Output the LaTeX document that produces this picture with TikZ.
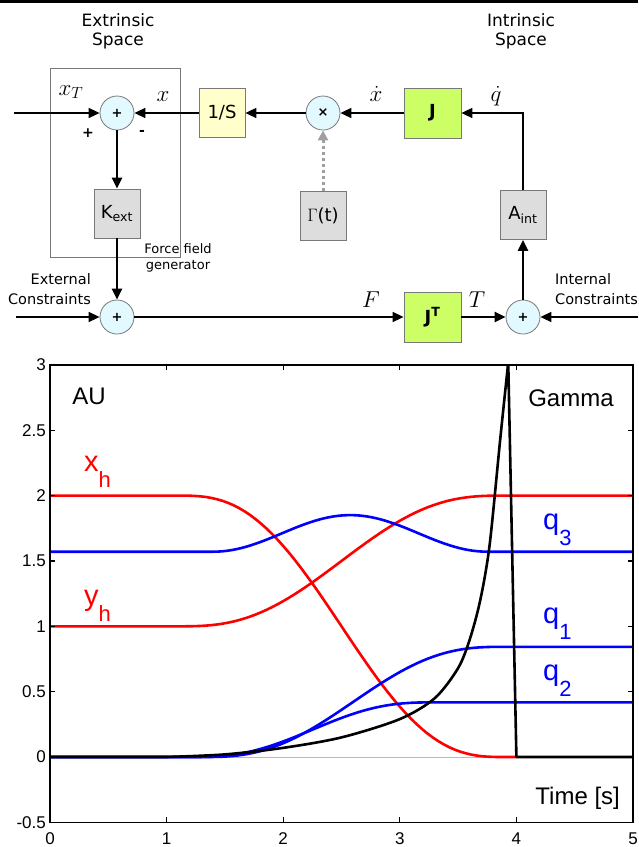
\documentclass[tikz,border=0pt]{standalone}
\usepackage{fix-cm}
\usepackage{amsmath}
\usepackage{fontspec}
\setmainfont{Liberation Sans}
\newfontfamily\handfont{DejaVu Sans}
\usepackage{tikz}
\usetikzlibrary{arrows.meta, positioning, calc}
\definecolor{sumcyan}{RGB}{226,250,255}
\definecolor{paleyellow}{RGB}{255,255,204}
\definecolor{limegreen}{RGB}{204,255,102}
\definecolor{boxgray}{RGB}{221,221,221}
\definecolor{edgegray}{RGB}{120,120,120}
\definecolor{plotred}{RGB}{255,0,0}
\definecolor{plotblue}{RGB}{0,0,255}
\newcommand{\plotsym}[2]{#1\raisebox{-16pt}{\fontsize{22}{22}\selectfont #2}}
\tikzset{
  %% ---- blocks ----
  sumnode/.style    = {circle, draw=edgegray, line width=0.8pt, fill=sumcyan,
                       minimum size=34pt, inner sep=0pt,
                       font=\handfont\bfseries\fontsize{13}{13}\selectfont},
  block/.style      = {rectangle, draw=edgegray, line width=0.8pt,
                       minimum width=46pt, minimum height=49pt, inner sep=0pt,
                       font=\handfont\fontsize{18}{18}\selectfont},
  yellowblock/.style= {block, fill=paleyellow},
  greenblock/.style = {block, fill=limegreen, minimum width=57pt,
                       minimum height=50pt,
                       font=\handfont\bfseries\fontsize{18}{18}\selectfont},
  grayblock/.style  = {block, fill=boxgray},
  %% ---- labels ----
  mathlbl/.style    = {inner sep=0pt, anchor=base, font=\fontsize{23}{23}\selectfont},
  txtlbl/.style     = {inner sep=0pt, align=center,
                       font=\handfont\fontsize{17}{19}\selectfont},
  smalllbl/.style   = {inner sep=0pt, font=\handfont\fontsize{14.5}{20}\selectfont},
  axlbl/.style      = {inner sep=0pt, font=\fontsize{24}{24}\selectfont},
  ticklbl/.style    = {inner sep=0pt, font=\fontsize{17}{17}\selectfont},
  curvelbl/.style   = {inner sep=0pt, anchor=base west, font=\fontsize{29}{29}\selectfont},
  %% ---- arrows ----
  sig/.style        = {-{Triangle[length=11pt,width=10pt]}, line width=1.6pt},
  thicksig/.style   = {sig, line width=2.4pt},
  dotsig/.style     = {-{Triangle[length=10pt,width=10pt]}, line width=3pt,
                       color=gray!75, dash pattern=on 3pt off 3pt},
  curve/.style      = {line width=2.6pt, line join=round},
}

\begin{document}
\begin{tikzpicture}[x=1pt, y=-1pt,
    declare function={mj(\u)=10*\u^3-15*\u^4+6*\u^5;}]
  \useasboundingbox (0,0) rectangle (638,847);
  \fill[black] (0,0) rectangle (638,3);

  %% ---- block diagram ----
  \node[draw=edgegray, line width=0.8pt, minimum width=130pt,
        minimum height=189pt, inner sep=0pt] (ffgbox) at (115,162.5) {};

  \node[txtlbl] (extsp) at (118,31) {Extrinsic\\Space};
  \node[txtlbl] (intsp) at (521,31) {Intrinsic\\Space};

  \node[sumnode]    (sumx)  at (117,113)   {+};
  \node[yellowblock](integ) at (222,113)   {1/S};
  \node[sumnode]    (mult)  at (323,113)   {×};
  \node[greenblock] (jac)   at (432.5,113) {J};
  \node[grayblock]  (kext)  at (117,213.5) {K\textsubscript{ext}};
  \node[grayblock]  (gam)   at (323,215.5) {$\Gamma$(t)};
  \node[grayblock]  (aint)  at (523,215)   {A\textsubscript{int}};
  \node[sumnode]    (sumf)  at (117,317)   {+};
  \node[greenblock] (jact)  at (432.5,317) {J\textsuperscript{T}};
  \node[sumnode]    (sumt)  at (523,317)   {+};

  \node[txtlbl, font=\handfont\fontsize{13}{16}\selectfont] (ffglbl)
    at (178,258) {Force field\\generator};
  \node[smalllbl, align=right, anchor=east] (extc) at (91,289)
    {External\\Constraints};
  \node[smalllbl, align=left, anchor=west] (intc) at (555,289)
    {Internal\\Constraints};

  \node[mathlbl] (lxt)   at (71,95)   {$x_T$};
  \node[mathlbl] (lx)    at (163,101) {$x$};
  \node[mathlbl] (lxd)   at (376,101) {$\dot{x}$};
  \node[mathlbl] (lqd)   at (496,101) {$\dot{q}$};
  \node[mathlbl] (lf)    at (371,307) {$F$};
  \node[mathlbl] (lt)    at (477,307) {$T$};
  \node[font=\handfont\bfseries\fontsize{14}{14}\selectfont] (pls) at (88,133) {+};
  \node[font=\handfont\bfseries\fontsize{14}{14}\selectfont] (mns) at (142,133) {-};

  \coordinate (inxt)  at (14,113);
  \coordinate (inext) at (16,317);
  \coordinate (inint) at (638,317);

  \draw[sig] (inxt) -- (sumx);
  \draw[sig] (integ) -- (sumx);
  \draw[sig] (mult) -- (integ);
  \draw[sig] (jac) -- (mult);
  \draw[sig] (aint.north) |- (jac.east);
  \draw[thicksig] (sumx) -- (kext);
  \draw[thicksig] (kext) -- (sumf);
  \draw[sig] (inext) -- (sumf);
  \draw[sig] (sumf) -- (jact);
  \draw[thicksig] (jact) -- (sumt);
  \draw[thicksig] (sumt) -- (aint);
  \draw[sig] (inint) -- (sumt);
  \draw[dotsig] (gam) -- (mult);

  %% ---- time course ----
  \begin{scope}[shift={(50,757)}, x=116.6pt, y=130.7pt]
    \draw[gray!55, line width=0.6pt] (0,0) -- (5,0);
    \begin{scope}
      \clip (0,-0.5) rectangle (5,3);
      \draw[curve, plotred] (0,2) -- (1.1,2)
        -- plot[domain=1.1:3.9, samples=60] (\x,{2-2*mj((\x-1.1)/2.8)}) -- (4,0);
      \draw[curve, plotred] (0,1) -- (1.1,1)
        -- plot[domain=1.1:3.9, samples=60] (\x,{1+mj((\x-1.1)/2.8)}) -- (5,2);
      \draw[curve, plotblue] (0,1.5708) -- (1.4,1.5708)
        -- plot[domain=1.4:3.75, samples=60]
           (\x,{1.5708+0.28*sin(180*(\x-1.4)/2.35)*sin(180*(\x-1.4)/2.35)})
        -- (5,1.5708);
      \draw[curve, plotblue] (0,0) -- (1.3,0)
        -- plot[domain=1.3:3.9, samples=60] (\x,{0.843*mj((\x-1.3)/2.6)}) -- (5,0.843);
      \draw[curve, plotblue] (0,0) -- (1.2,0)
        -- plot[domain=1.2:3.3, samples=60] (\x,{0.418*mj((\x-1.2)/2.1)}) -- (5,0.418);
      \draw[curve, black] (0,0) -- (1,0)
        -- plot[smooth, tension=0.5] coordinates {(1,0) (1.5,0.02) (2,0.07)
           (2.5,0.15) (3,0.29) (3.3,0.45) (3.5,0.68) (3.6,0.9) (3.69,1.2)
           (3.77,1.62) (3.86,2.42) (3.93,3.02)}
        -- (4,0) -- (5,0);
    \end{scope}
    \draw[line width=1.6pt] (0,-0.5) rectangle (5,3);
    \foreach \t in {1,2,3,4} {
      \draw[line width=1.2pt] (\t,-0.5) -- ++(0,5pt);
      \draw[line width=1.2pt] (\t,3) -- ++(0,-5pt);
    }
    \foreach \v in {0,0.5,1,1.5,2,2.5} {
      \draw[line width=1.2pt] (0,\v) -- ++(5pt,0);
      \draw[line width=1.2pt] (5,\v) -- ++(-5pt,0);
    }
    \foreach \v in {-0.5,0,0.5,1,1.5,2,2.5,3}
      \node[ticklbl, anchor=east, xshift=-4pt] at (0,\v) {\v};
    \foreach \t in {0,1,2,3,4,5}
      \node[ticklbl, anchor=north, yshift=-10pt] at (\t,-0.5) {\t};

    \node[axlbl] (au)    at (0.334,2.762) {AU};
    \node[axlbl] (gamma) at (4.468,2.747) {Gamma};
    \node[axlbl, anchor=base east] (time) at (4.889,-0.367) {Time [s]};
    \node[curvelbl, plotred]  (xh) at (0.292,2.181) {\plotsym{x}{h}};
    \node[curvelbl, plotred]  (yh) at (0.292,1.163) {\plotsym{y}{h}};
    \node[curvelbl, plotblue] (q3) at (4.228,1.737) {\plotsym{q}{3}};
    \node[curvelbl, plotblue] (q1) at (4.228,1.025) {\plotsym{q}{1}};
    \node[curvelbl, plotblue] (q2) at (4.228,0.589) {\plotsym{q}{2}};
  \end{scope}
\end{tikzpicture}
\end{document}
